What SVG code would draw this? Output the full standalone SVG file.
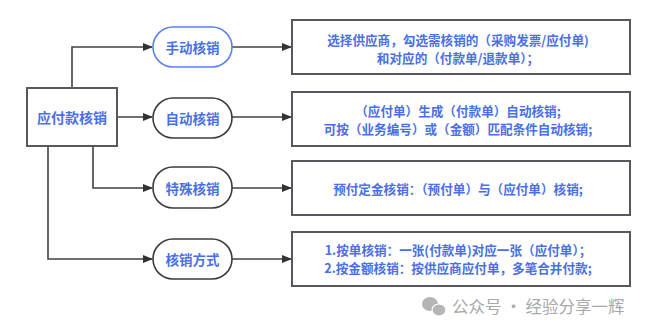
<svg xmlns="http://www.w3.org/2000/svg" width="661" height="334" viewBox="0 0 661 334">
<style>
.box{fill:#fff;stroke:#55585c;stroke-width:2}
.pill{fill:#fff;stroke:#3a3d40;stroke-width:1.6}
.pill.sel{stroke:#5b80f0}
.t{font-family:"Noto Sans CJK SC","Liberation Sans",sans-serif;font-weight:bold;fill:#4a6fe6;text-anchor:middle;dominant-baseline:central}
.n{font-size:13.5px}
.d{font-size:12.6px}
.ln{fill:none;stroke:#3f4245;stroke-width:1.6}
.wm{font-family:"Noto Sans CJK SC","Liberation Sans",sans-serif;font-size:16.5px;fill:#a8a8a8;dominant-baseline:central}
</style>
<defs>
<marker id="ah" markerWidth="10" markerHeight="8" refX="9" refY="4" orient="auto" markerUnits="userSpaceOnUse">
<path d="M0,0 L10,4 L0,8 Z" fill="#333"/>
</marker>
</defs>
<rect width="661" height="334" fill="#fff"/>
<g id="connectors">
<path class="ln" d="M72,88 V47 H152" marker-end="url(#ah)"/>
<path class="ln" d="M117,117 H152" marker-end="url(#ah)"/>
<path class="ln" d="M93,146 V188 H152" marker-end="url(#ah)"/>
<path class="ln" d="M48,146 V259 H152" marker-end="url(#ah)"/>
<path class="ln" d="M232,47 H291" marker-end="url(#ah)"/>
<path class="ln" d="M232,117 H291" marker-end="url(#ah)"/>
<path class="ln" d="M232,188 H291" marker-end="url(#ah)"/>
<path class="ln" d="M232,259 H291" marker-end="url(#ah)"/>
</g>
<g id="root">
<rect class="box" x="27" y="88" width="90" height="58"/>
<text class="t" x="72" y="117" font-size="14">应付款核销</text>
</g>
<g id="n1">
<rect class="pill sel" x="153" y="27" width="79" height="40" rx="20"/>
<text class="t n" x="192.5" y="47">手动核销</text>
</g>
<g id="n2">
<rect class="pill" x="153" y="98" width="79" height="40" rx="20"/>
<text class="t n" x="192.5" y="118">自动核销</text>
</g>
<g id="n3">
<rect class="pill" x="153" y="167" width="79" height="41" rx="20"/>
<text class="t n" x="192.5" y="187.5">特殊核销</text>
</g>
<g id="n4">
<rect class="pill" x="153" y="239" width="79" height="40" rx="20"/>
<text class="t n" x="192.5" y="259">核销方式</text>
</g>
<g id="d1">
<rect class="box" x="292" y="20" width="338" height="54"/>
<text class="t d" x="458" y="39">选择供应商，勾选需核销的（采购发票/应付单)</text>
<text class="t d" x="458" y="57">和对应的（付款单/退款单）；</text>
</g>
<g id="d2">
<rect class="box" x="292" y="92" width="338" height="54"/>
<text class="t d" x="458" y="110.5">（应付单）生成（付款单）自动核销;</text>
<text class="t d" x="458" y="128">可按（业务编号）或（金额）匹配条件自动核销;</text>
</g>
<g id="d3">
<rect class="box" x="292" y="161" width="338" height="54"/>
<text class="t d" x="458" y="188">预付定金核销：（预付单）与（应付单）核销;</text>
</g>
<g id="d4">
<rect class="box" x="292" y="232" width="338" height="54"/>
<text class="t d" x="458" y="249">1.按单核销：一张(付款单)对应一张（应付单）；</text>
<text class="t d" x="458" y="267">2.按金额核销：按供应商应付单，多笔合并付款;</text>
</g>
<g id="watermark">
<ellipse cx="430" cy="304" rx="8" ry="7" fill="#b5b5b5"/>
<ellipse cx="439" cy="310" rx="7" ry="6" fill="#b5b5b5" stroke="#fff" stroke-width="1.2"/>
<text class="wm" x="452" y="306">公众号 · 经验分享一辉</text>
</g>
</svg>
